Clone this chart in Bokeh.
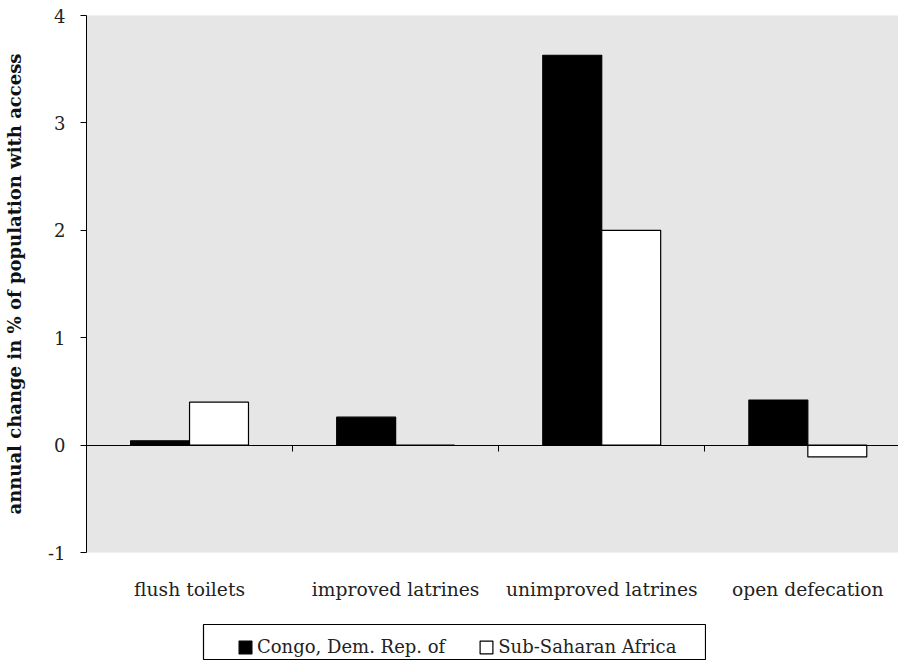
from bokeh.plotting import figure
from bokeh.models import Range1d, LinearAxis, FixedTicker, Legend, LegendItem, Spacer
from bokeh.layouts import column, row
from bokeh.embed import file_html
from bokeh.resources import INLINE

categories = ["flush toilets", "improved latrines", "unimproved latrines", "open defecation"]
congo = [0.04, 0.26, 3.63, 0.42]
ssa = [0.40, 0.0, 2.00, -0.11]
series_names = ["Congo, Dem. Rep. of", "Sub-Saharan Africa"]
y_ticks = [-1, 0, 1, 2, 3, 4]
y_title = "annual change in % of population with access"

FONT = "DejaVu Serif"
n = len(categories)
bar_w = 0.286
centers = [i + 0.5 for i in range(n)]
x_congo = [c - bar_w / 2 for c in centers]
x_ssa = [c + bar_w / 2 for c in centers]
boundaries = [float(i) for i in range(1, n)]

p = figure(width=898, height=623, output_backend="svg", toolbar_location=None,
           x_range=Range1d(0, 3.94), y_range=Range1d(-1, 4),
           x_axis_location=None, y_axis_location=None,
           min_border_top=15, min_border_left=86, min_border_right=0,
           min_border_bottom=71)
p.background_fill_color = "#e6e6e6"
p.border_fill_color = "white"
p.outline_line_color = None
p.grid.visible = False

p.vbar(x=x_congo, top=congo, bottom=0, width=bar_w, fill_color="black",
       line_color="black", line_width=1.2)
p.vbar(x=x_ssa, top=ssa, bottom=0, width=bar_w, fill_color="white",
       line_color="black", line_width=1.2)

yaxis = LinearAxis(ticker=FixedTicker(ticks=y_ticks),
                   major_tick_in=0, major_tick_out=6, minor_tick_out=0, minor_tick_in=0,
                   axis_line_color="black", major_tick_line_color="black",
                   major_label_text_font=FONT, major_label_text_font_size="18px",
                   major_label_text_color="#222222", major_label_standoff=15,
                   major_label_overrides={-1: "-1"},
                   axis_label=y_title, axis_label_text_font=FONT,
                   axis_label_text_font_style="bold", axis_label_text_font_size="18px",
                   axis_label_text_color="#111111", axis_label_standoff=20)
p.add_layout(yaxis, "left")

# zero line with boundary ticks
zaxis = LinearAxis(fixed_location=0, ticker=FixedTicker(ticks=boundaries),
                   major_tick_in=0, major_tick_out=6, minor_tick_out=0, minor_tick_in=0,
                   axis_line_color="black", major_tick_line_color="black",
                   major_label_text_font_size="0px", major_label_text_color=None)

# category labels
xaxis = LinearAxis(ticker=FixedTicker(ticks=centers),
                   major_label_overrides={c: name for c, name in zip(centers, categories)},
                   axis_line_color=None, major_tick_line_color=None,
                   minor_tick_line_color=None,
                   major_label_text_font=FONT, major_label_text_font_size="18.7px",
                   major_label_text_color="#222222", major_label_standoff=20)
p.add_layout(xaxis, "below")
p.add_layout(zaxis, "below")

# legend strip (boxed) below the chart
p2 = figure(width=504, height=37, output_backend="svg", toolbar_location=None,
            x_range=Range1d(10, 11), y_range=Range1d(10, 11),
            x_axis_location=None, y_axis_location=None,
            min_border_left=1, min_border_right=1, min_border_top=1, min_border_bottom=0)
p2.outline_line_color = "black"
p2.outline_line_width = 1.2
p2.background_fill_color = "white"
p2.border_fill_color = "white"
p2.grid.visible = False
l1 = p2.vbar(x=x_congo, top=congo, bottom=0, width=bar_w, fill_color="black",
             line_color="black", line_width=1.2)
l2 = p2.vbar(x=x_ssa, top=ssa, bottom=0, width=bar_w, fill_color="white",
             line_color="black", line_width=1.2)

legend = Legend(items=[LegendItem(label=series_names[0], renderers=[l1]),
                       LegendItem(label=series_names[1], renderers=[l2])],
                orientation="horizontal", location=(34, 3),
                glyph_width=16, glyph_height=16, label_standoff=4,
                label_text_font=FONT, label_text_font_size="18px",
                label_text_color="#222222", spacing=33, padding=0, margin=0,
                border_line_color=None, background_fill_alpha=0)
p2.add_layout(legend)

layout = column(p, row(Spacer(width=202, height=37), p2))

open("out.html", "w").write(file_html(layout, INLINE))
